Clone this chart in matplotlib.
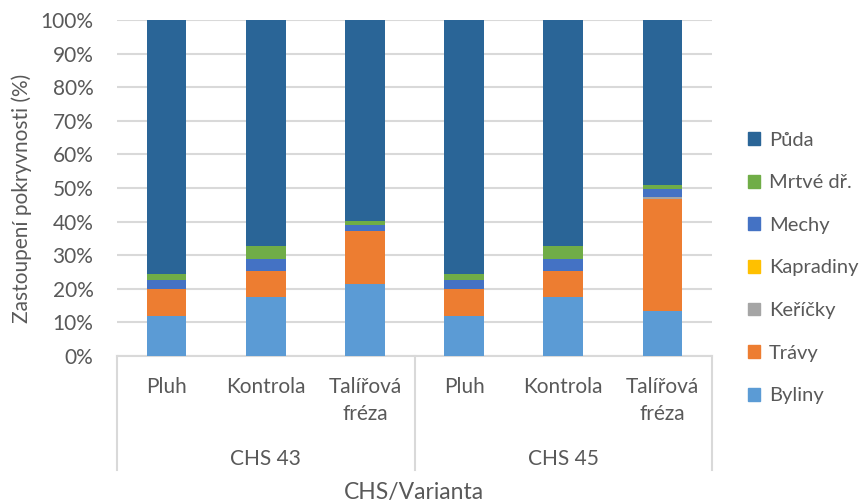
import matplotlib
matplotlib.use("Agg")
import matplotlib.pyplot as plt
from matplotlib.patches import Patch
from matplotlib.lines import Line2D

# kategorie na ose x
varianty = ["Pluh", "Kontrola", "Talířová\nfréza", "Pluh", "Kontrola", "Talířová\nfréza"]
skupiny = ["CHS 43", "CHS 45"]

# zastoupení pokryvnosti (%)
byliny = [11.9, 17.6, 21.5, 12.0, 17.6, 13.4]
travy = [7.9, 7.6, 15.6, 7.9, 7.7, 33.4]
kericky = [0.0, 0.0, 0.1, 0.0, 0.0, 0.5]
kapradiny = [0.0, 0.0, 0.0, 0.0, 0.0, 0.0]
mechy = [2.7, 3.7, 1.8, 2.7, 3.6, 2.4]
mrtve = [2.0, 3.7, 1.2, 1.9, 3.7, 1.2]
puda = [75.5, 67.4, 59.8, 75.5, 67.4, 49.1]

serie = [
    ("Byliny", byliny, "#5B9BD5"),
    ("Trávy", travy, "#ED7D31"),
    ("Keříčky", kericky, "#A5A5A5"),
    ("Kapradiny", kapradiny, "#FFC000"),
    ("Mechy", mechy, "#4472C4"),
    ("Mrtvé dř.", mrtve, "#70AD47"),
    ("Půda", puda, "#2A6597"),
]

plt.rcParams["font.family"] = ["Lato", "DejaVu Sans"]
text_col = "#595959"
grid_col = "#D9D9D9"
fs = 15

fig = plt.figure(figsize=(8.66, 5.04), dpi=100)
ax = fig.add_axes([117 / 866, 1 - 356 / 504, (712 - 117) / 866, (356 - 20) / 504])

x = list(range(len(varianty)))
bottom = [0.0] * len(x)
for name, vals, col in serie:
    ax.bar(x, vals, width=0.4, bottom=bottom, color=col, label=name, zorder=3)
    bottom = [b + v for b, v in zip(bottom, vals)]

ax.set_xlim(-0.5, len(x) - 0.5)
ax.set_ylim(0, 100)
ax.set_yticks(range(0, 101, 10))
ax.set_yticklabels([f"{v}%" for v in range(0, 101, 10)])
ax.yaxis.grid(True, color=grid_col, linewidth=1.5, zorder=0)
ax.tick_params(axis="y", length=0, pad=17, labelsize=fs, labelcolor=text_col)
ax.set_xticks(x)
ax.set_xticklabels(varianty, linespacing=1.45)
ax.tick_params(axis="x", length=0, pad=15, labelsize=fs, labelcolor=text_col)

for s in ["top", "right", "left"]:
    ax.spines[s].set_visible(False)
ax.spines["bottom"].set_color(grid_col)
ax.spines["bottom"].set_linewidth(1.5)

# hierarchicka osa - svisle cary a nazvy skupin
for xf in [0, 0.5, 1]:
    ax.add_line(Line2D([xf, xf], [0, -0.34], transform=ax.transAxes,
                       color=grid_col, linewidth=1.5, clip_on=False))
for i, g in enumerate(skupiny):
    ax.text(0.25 + 0.5 * i, -0.307, g, transform=ax.transAxes, ha="center",
            va="center", fontsize=fs, color=text_col)

fig.text(414 / 866, 1 - 492 / 504, "CHS/Varianta", ha="center", va="center",
         fontsize=16.5, color=text_col)
fig.text(22 / 866, 1 - 198 / 504, "Zastoupení pokryvnosti (%)", rotation=90,
         ha="center", va="center", fontsize=15, color=text_col)

handles = [Patch(color=col, label=name) for name, vals, col in reversed(serie)]
leg = fig.legend(handles=handles, loc="center left", bbox_to_anchor=(748 / 866, 1 - 268 / 504),
                 frameon=False, fontsize=14.5, labelspacing=1.27, handlelength=0.6,
                 handleheight=0.6, handletextpad=0.45, borderpad=0, borderaxespad=0)
for t in leg.get_texts():
    t.set_color(text_col)

fig.savefig("out.png", dpi=100)
